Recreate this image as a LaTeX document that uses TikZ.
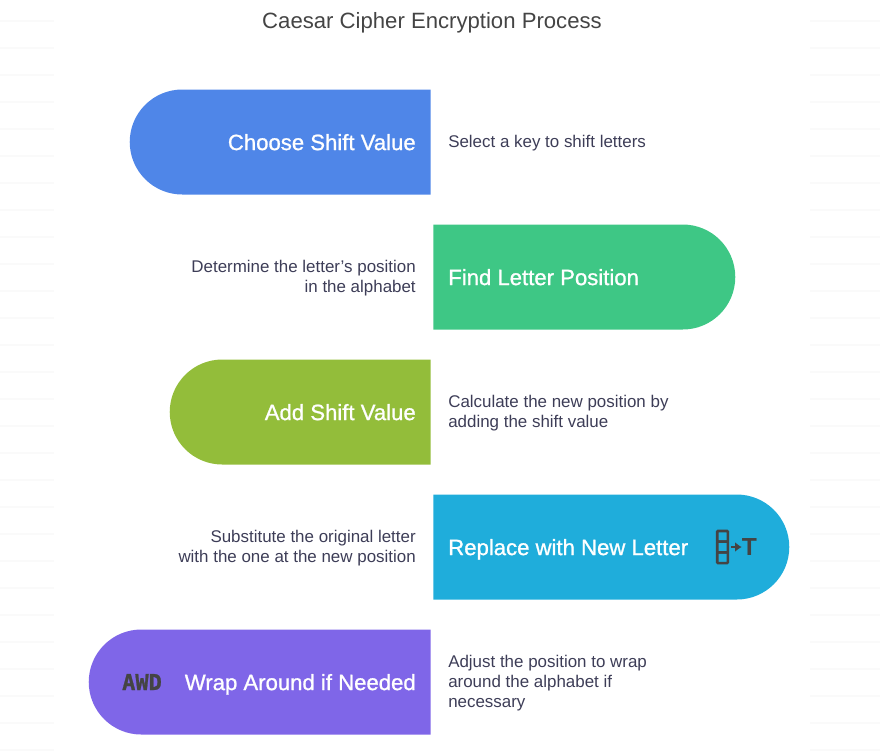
\documentclass[tikz,border=0pt]{standalone}
\usepackage{fontspec}
\setmainfont{Liberation Sans}
\newfontfamily\labelfont[FakeBold=1]{Liberation Sans}
\newfontfamily\iconfont[FakeBold=1]{DejaVu Sans Mono Bold}
\usetikzlibrary{positioning, shapes.misc, arrows.meta}
\def\rowsep{135}
\definecolor{shiftblue}{HTML}{4F86E8}
\definecolor{lettergreen}{HTML}{3EC785}
\definecolor{addolive}{HTML}{93BD3A}
\definecolor{replacecyan}{HTML}{1FADDB}
\definecolor{wrappurple}{HTML}{7F66E8}
\definecolor{inkgray}{HTML}{444444}
\definecolor{stripe}{HTML}{FAFAFA}
\tikzset{
  pill/.style={rounded rectangle,inner sep=0pt,minimum height=78.75pt,text width=0pt},
  pill left/.style={pill,rounded rectangle east arc=none,anchor=east},
  pill right/.style={pill,rounded rectangle west arc=none,anchor=west},
  step label/.style={text=white,font=\labelfont\fontsize{16.6pt}{20pt}\selectfont,inner sep=0pt,text height=12.1pt,text depth=0pt},
  note/.style={text=inkgray!90!blue,font=\fontsize{12.7pt}{15pt}\selectfont,inner sep=0pt,yshift=-0.75pt},
  note left/.style={note,anchor=east,align=right},
  note right/.style={note,anchor=west,align=left},
  cell/.style={draw=inkgray,line width=1.9pt,rounded corners=0.5pt,minimum width=7.9pt,minimum height=8pt,inner sep=0pt,outer sep=0pt}
}
\begin{document}
\begin{tikzpicture}[x=0.75pt,y=-0.75pt]
\useasboundingbox (0,0) rectangle (880,754);

% Faint stripes on both sides
\foreach \y in {0,...,27}
{
\draw[stripe,line width=1pt] (0,21+\y*27) -- (54,21+\y*27);
\draw[stripe,line width=1pt] (810,21+\y*27) -- (880,21+\y*27);
}

\node[text=inkgray,font=\fontsize{16.6pt}{20pt}\selectfont,inner sep=0pt,text height=12pt,text depth=0pt] (title) at (432,20) {Caesar Cipher Encryption Process};

% Draw the pills
\node[pill left,fill=shiftblue,minimum width=225.75pt] (P-1) at (431,142) {};
\node[pill right,fill=lettergreen,minimum width=226.5pt] (P-2) at (433,142+\rowsep) {};
\node[pill left,fill=addolive,minimum width=195.75pt] (P-3) at (431,142+2*\rowsep) {};
\node[pill right,fill=replacecyan,minimum width=267pt] (P-4) at (433,142+3*\rowsep) {};
\node[pill left,fill=wrappurple,minimum width=256.5pt] (P-5) at (431,142+4*\rowsep) {};

% Pill labels
\node[step label,anchor=east] (L-1) at (416,142) {Choose Shift Value};
\node[step label,anchor=west] (L-2) at (448,142+\rowsep) {Find Letter Position};
\node[step label,anchor=east] (L-3) at (416,142+2*\rowsep) {Add Shift Value};
\node[step label,anchor=west] (L-4) at (448,142+3*\rowsep) {Replace with New Letter};
\node[step label,anchor=east] (L-5) at (416,142+4*\rowsep) {Wrap Around if Needed};

% Notes beside the pills
\node[note right] (N-1) at (448,142) {Select a key to shift letters};
\node[note left] (N-2) at (416,142+\rowsep) {Determine the letter's position\\in the alphabet};
\node[note right] (N-3) at (448,142+2*\rowsep) {Calculate the new position by\\adding the shift value};
\node[note left] (N-4) at (416,142+3*\rowsep) {Substitute the original letter\\with the one at the new position};
\node[note right] (N-5) at (448,142+4*\rowsep) {Adjust the position to wrap\\around the alphabet if\\necessary};

% Icons
\foreach \name / \y in {1/-10.67,2/0,3/10.67}
\node[cell] (C-\name) at (722.5,547+\y) {};
\node[text=inkgray,font=\bfseries\fontsize{18.5pt}{20pt}\selectfont,inner sep=0pt] (T) at (749.5,547) {T};
\draw[-{Latex[length=5pt,width=7.5pt]},inkgray,line width=1.9pt,shorten <=2.4pt] (C-2) -- (T);
\node[text=inkgray,font=\iconfont\fontsize{16.5pt}{18pt}\selectfont,inner sep=0pt] (A) at (142,682) {AWD};
\end{tikzpicture}
\end{document}
